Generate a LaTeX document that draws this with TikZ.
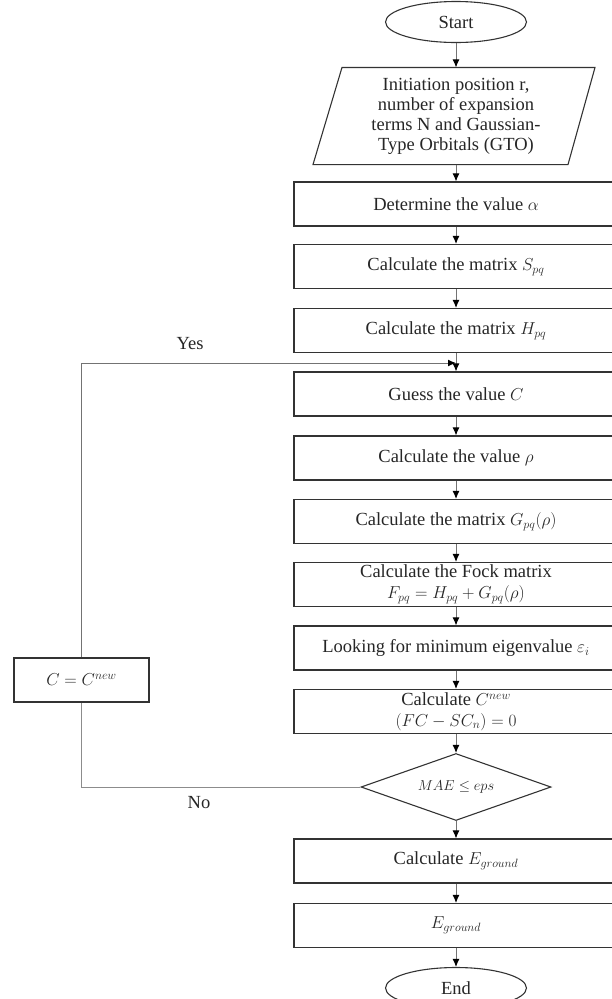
\documentclass[tikz,border=0pt]{standalone}
\usepackage{fontspec}
\setmainfont{Liberation Serif}
\usetikzlibrary{arrows.meta,shapes.geometric}

\begin{document}
\begin{tikzpicture}[x=1pt, y=-1pt, line width=1.1pt, text=black!85,
  font=\fontsize{18.5}{21}\selectfont,
  box/.style={draw=black!80, minimum width=324pt, minimum height=44pt, inner sep=0pt, align=center},
  term/.style={draw=black!80, ellipse, minimum width=141pt, minimum height=41pt, inner sep=0pt},
  arr/.style={draw=black!55, line width=1pt, -{Latex[length=8pt,width=7pt,black]}},
  wire/.style={draw=black!45, line width=1pt}]
  \path[use as bounding box, clip] (0,0) rectangle (612,999);

  \node[term] (start) at (456,22) {Start};
  \node[minimum height=96pt, align=center, inner sep=0pt, font=\fontsize{18.5}{20}\selectfont] (init) at (456,116)
    {Initiation position r,\\ number of expansion\\ terms N and Gaussian-\\ Type Orbitals (GTO)};
  \draw[draw=black!80] ([xshift=-114pt]init.north) -- ([xshift=139pt]init.north)
    -- ([xshift=112pt]init.south) -- ([xshift=-143pt]init.south) -- cycle;
  \node[box] (alpha) at (456,204) {Determine the value $\alpha$};
  \node[box] (spq) at (456,266.5) {Calculate the matrix $S_{pq}$};
  \node[box] (hpq) at (456,330.5) {Calculate the matrix $H_{pq}$};
  \node[box] (guess) at (456,394) {Guess the value $C$};
  \node[box] (rho) at (456,458) {Calculate the value $\rho$};
  \node[box] (gpq) at (456,521.5) {Calculate the matrix $G_{pq}(\rho)$};
  \node[box] (fock) at (456,584.5) {Calculate the Fock matrix\\ $F_{pq} = H_{pq} + G_{pq}(\rho)$};
  \node[box] (eigen) at (456,648) {Looking for minimum eigenvalue $\varepsilon_i$};
  \node[box] (cnew) at (456,711.5) {Calculate $C^{new}$\\ $(FC - SC_n) = 0$};
  \node[diamond, aspect=3, draw=black!80, minimum width=190pt, minimum height=67pt, inner sep=0pt,
    font=\fontsize{13.5}{15}\selectfont] (check) at (456,787) {$MAE \le eps$};
  \node[box] (ecalc) at (456,861) {Calculate $E_{ground}$};
  \node[box] (egr) at (456,925.5) {$E_{ground}$};
  \node[term] (end) at (456,988) {End};
  \node[box, minimum width=135pt] (cset) at (81.5,680) {$C = C^{new}$};
  \node (yes) at (190,344) {Yes};
  \node (no) at (199,803) {No};
  \coordinate (join) at (456,363);

  \foreach \a/\b in {start/init, init/alpha, alpha/spq, spq/hpq, hpq/guess, guess/rho,
    rho/gpq, gpq/fock, fock/eigen, eigen/cnew, cnew/check, check/ecalc, ecalc/egr, egr/end}
    \draw[arr] (\a) -- (\b);
  \draw[wire] (check.west) -| (cset.south);
  \draw[arr] (cset.north) |- (join);
\end{tikzpicture}
\end{document}
